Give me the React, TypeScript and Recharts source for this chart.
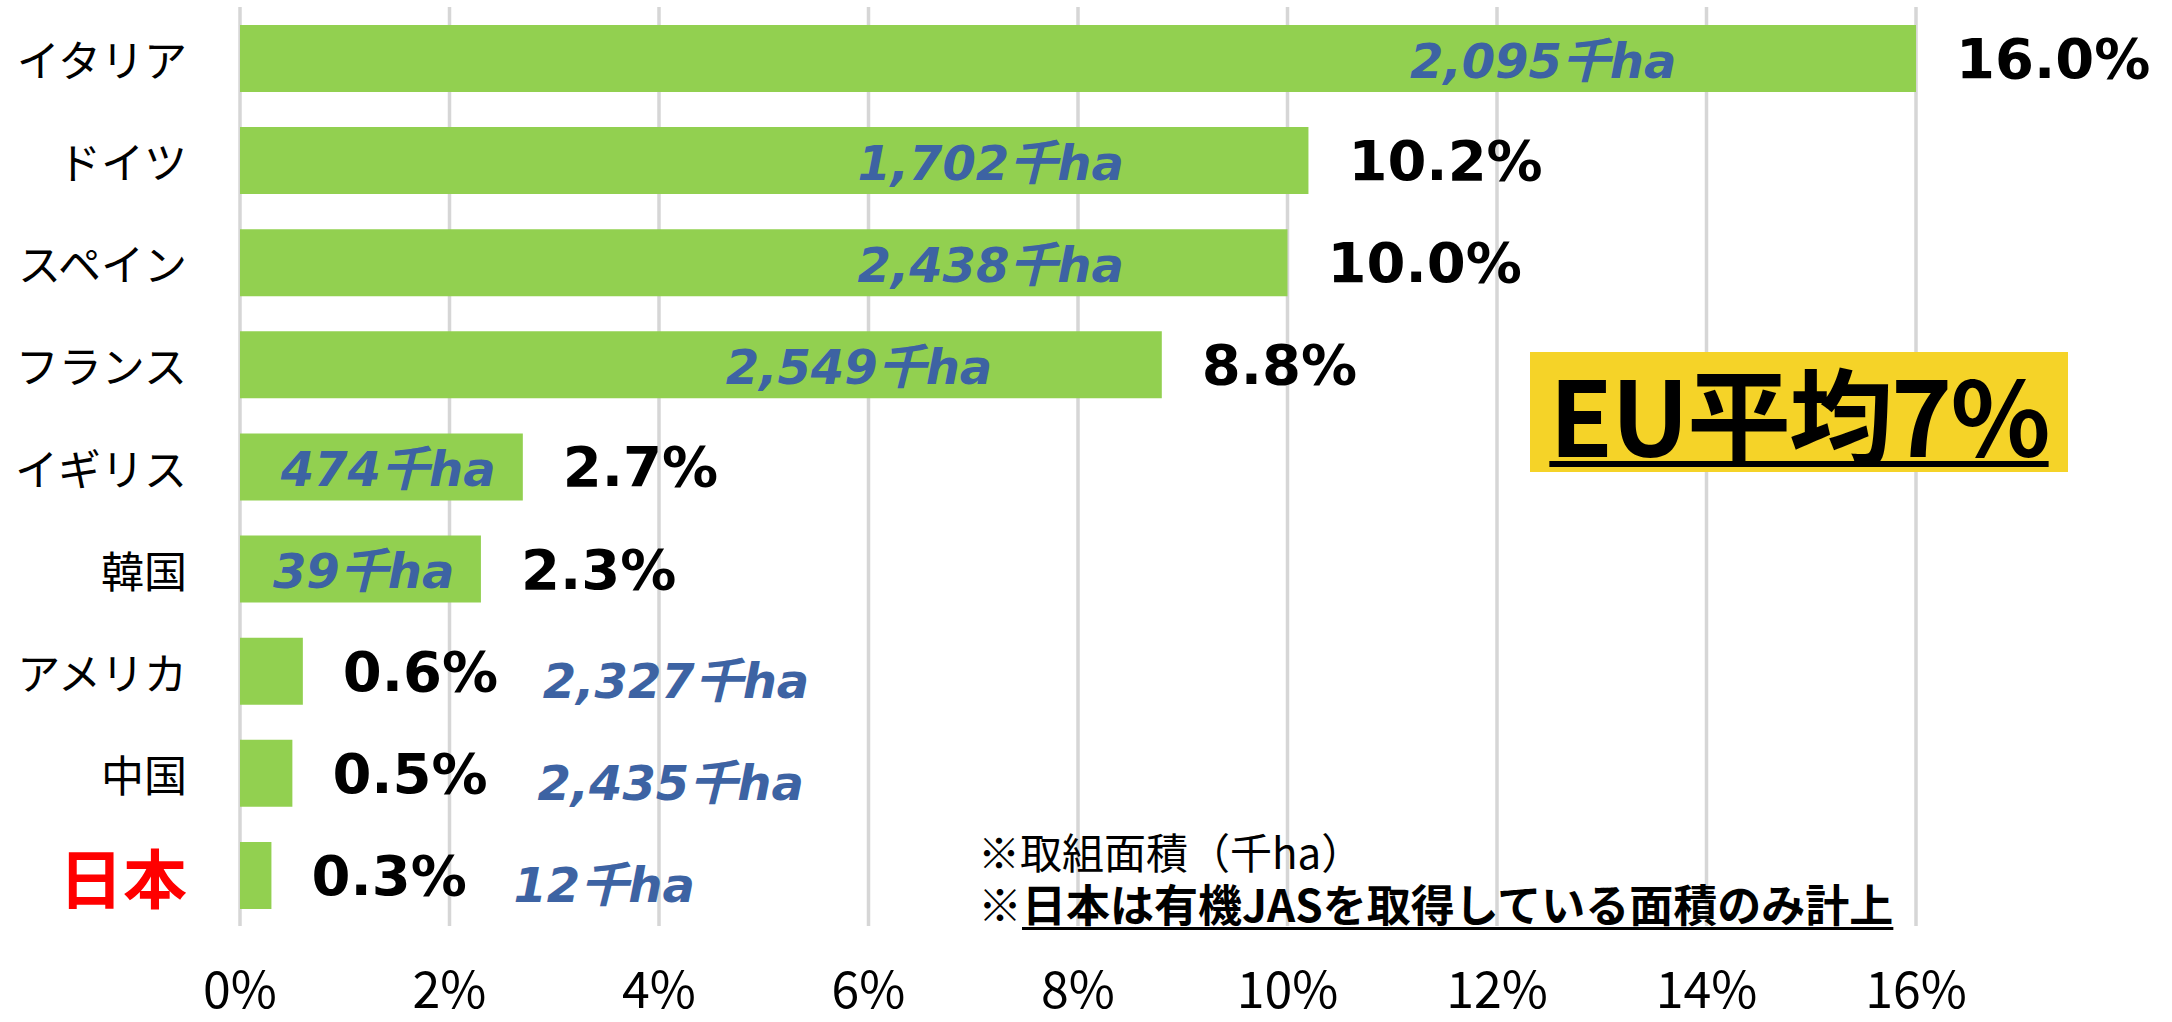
import { BarChart, Bar, XAxis, YAxis, CartesianGrid, LabelList } from "recharts";

const countries = ["イタリア", "ドイツ", "スペイン", "フランス", "イギリス", "韓国", "アメリカ", "中国", "日本"];
const shares = [16.0, 10.2, 10.0, 8.8, 2.7, 2.3, 0.6, 0.5, 0.3];
const areas = [2095, 1702, 2438, 2549, 474, 39, 2327, 2435, 12];
const xTicks = [0, 2, 4, 6, 8, 10, 12, 14, 16];

// where the blue area label starts, measured from the bar end (px)
const areaShift = [-506, -451, -430, -436, -242, -208, 240, 245, 242];

const data = countries.map((name, i) => ({ name, share: shares[i], area: areas[i] }));

const CJK = "'Noto Sans CJK JP', sans-serif";
const LATIN = "'DejaVu Sans', 'Noto Sans CJK JP', sans-serif";

function CountryTick(props: any) {
  const { x, y, payload } = props;
  const jp = payload.value === "日本";
  return (
    <text
      x={x}
      y={y}
      textAnchor="end"
      dominantBaseline="central"
      fontFamily={CJK}
      fontSize={jp ? 64 : 43}
      fontWeight={jp ? 700 : 400}
      fill={jp ? "#ff0000" : "#000"}
    >
      {payload.value}
    </text>
  );
}

function BarLabels(props: any) {
  const { x, y, width, height, index } = props;
  const end = Number(x) + Number(width);
  const cy = Number(y) + Number(height) / 2;
  const shift = areaShift[index];
  const outside = shift > 0;
  return (
    <g>
      <text x={end + 40} y={cy} dominantBaseline="central" fontFamily={LATIN} fontWeight={700} fontSize={56} fill="#000">
        {shares[index].toFixed(1)}%
      </text>
      <text
        x={end + shift}
        y={cy + (outside ? 10 : 2)}
        dominantBaseline="central"
        fontFamily={LATIN}
        fontWeight={700}
        fontStyle="italic"
        fontSize={48}
        fill="#3d63a3"
      >
        {areas[index].toLocaleString("en-US")}千ha
      </text>
    </g>
  );
}

export default function App() {
  return (
    <div style={{ position: "absolute", left: 0, top: 0, width: 2172, height: 1022, background: "#fff" }}>
      <BarChart
        width={2172}
        height={1022}
        data={data}
        layout="vertical"
        margin={{ top: 7, right: 256, bottom: 0, left: 0 }}
      >
        <CartesianGrid horizontal={false} stroke="#d6d6d6" strokeWidth={3.5} />
        <XAxis
          type="number"
          domain={[0, 16]}
          ticks={xTicks}
          tickFormatter={(v) => `${v}%`}
          axisLine={false}
          tickLine={false}
          tickSize={0}
          tickMargin={46}
          height={96}
          tick={{ fontSize: 50, fill: "#000", fontFamily: CJK }}
        />
        <YAxis
          type="category"
          dataKey="name"
          width={240}
          axisLine={false}
          tickLine={false}
          tickSize={0}
          tickMargin={53}
          tick={<CountryTick />}
        />
        <Bar dataKey="share" fill="#92d050" barSize={67} isAnimationActive={false}>
          <LabelList dataKey="share" content={<BarLabels />} />
        </Bar>
      </BarChart>

      <div
        style={{
          position: "absolute",
          left: 1530,
          top: 352,
          width: 538,
          height: 120,
          background: "#f5d328",
          display: "flex",
          alignItems: "center",
          justifyContent: "center",
        }}
      >
        <span
          style={{
            fontFamily: CJK,
            fontWeight: 700,
            fontSize: 104,
            lineHeight: 1,
            whiteSpace: "nowrap",
            letterSpacing: -2,
            color: "#000",
            textDecoration: "underline",
            textDecorationThickness: 6,
            textUnderlineOffset: 4,
          }}
        >
          EU平均7%
        </span>
      </div>

      <div
        style={{
          position: "absolute",
          left: 978,
          top: 825,
          fontFamily: CJK,
          fontSize: 42,
          lineHeight: "52px",
          color: "#000",
          whiteSpace: "nowrap",
        }}
      >
        <div>※取組面積（千ha）</div>
        <div style={{ fontSize: 44 }}>
          ※
          <span style={{ fontWeight: 700, textDecoration: "underline", textDecorationThickness: 3, textUnderlineOffset: 5 }}>
            日本は有機JASを取得している面積のみ計上
          </span>
        </div>
      </div>
    </div>
  );
}
